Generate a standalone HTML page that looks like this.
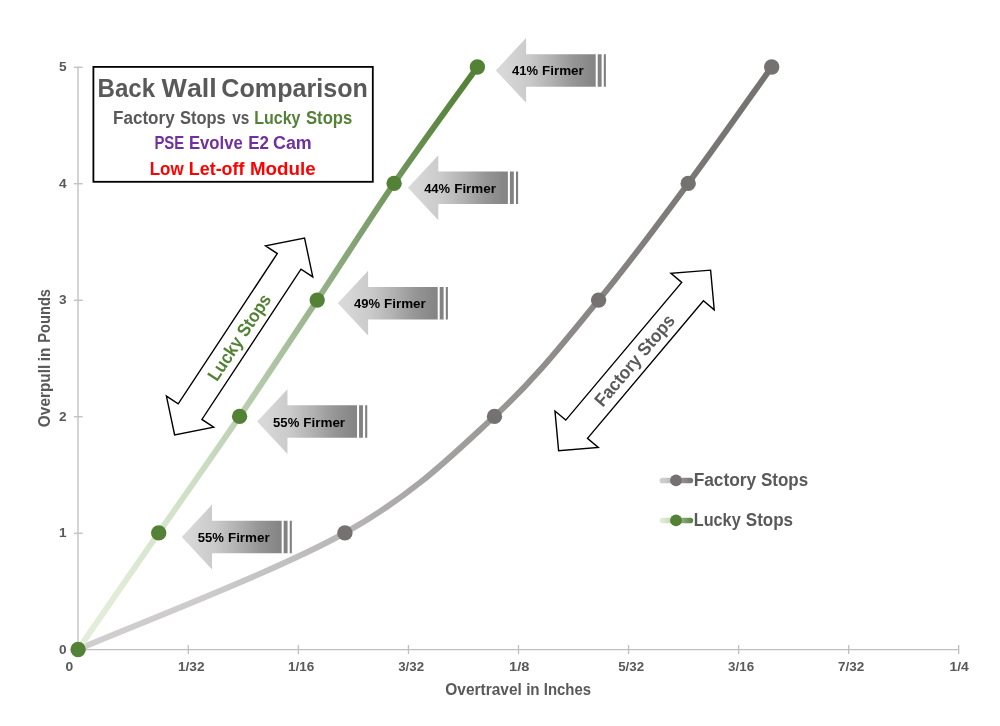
<!DOCTYPE html>
<html lang="en"><head><meta charset="utf-8"><title>Back Wall Comparison</title>
<style>html,body{margin:0;padding:0;background:#fff;}body{width:1000px;height:726px;overflow:hidden;}svg{display:block;}text{font-family:"Liberation Sans",sans-serif;font-weight:bold;font-kerning:none;}</style>
</head><body>
<svg width="1000" height="726" viewBox="0 0 1000 726">
<defs>
<linearGradient id="gGreen" gradientUnits="userSpaceOnUse" x1="78" y1="0" x2="477.4" y2="0"><stop offset="0" stop-color="#e3efdb"/><stop offset="0.1" stop-color="#e0ecd6"/><stop offset="0.3" stop-color="#cddec4"/><stop offset="0.5" stop-color="#acc3a2"/><stop offset="0.7" stop-color="#83a274"/><stop offset="0.9" stop-color="#5e8944"/><stop offset="1" stop-color="#538135"/></linearGradient>
<linearGradient id="gGray" gradientUnits="userSpaceOnUse" x1="78" y1="0" x2="771.7" y2="0"><stop offset="0" stop-color="#d0cece"/><stop offset="0.18" stop-color="#cdcbcb"/><stop offset="0.3" stop-color="#c1bfbf"/><stop offset="0.41" stop-color="#b4b2b2"/><stop offset="0.5" stop-color="#a7a4a4"/><stop offset="0.7" stop-color="#8e8a8a"/><stop offset="0.9" stop-color="#7b7676"/><stop offset="1" stop-color="#767171"/></linearGradient>
<linearGradient id="gArrow" gradientUnits="userSpaceOnUse" x1="0" y1="0" x2="110" y2="0"><stop offset="0" stop-color="#d9d9d9"/><stop offset="0.08" stop-color="#d7d7d7"/><stop offset="0.3" stop-color="#cacaca"/><stop offset="0.5" stop-color="#b2b2b2"/><stop offset="0.7" stop-color="#969696"/><stop offset="0.875" stop-color="#868686"/><stop offset="1" stop-color="#7f7f7f"/></linearGradient>
<linearGradient id="gLegGray" gradientUnits="userSpaceOnUse" x1="658" y1="0" x2="695" y2="0"><stop offset="0" stop-color="#d0cece"/><stop offset="0.18" stop-color="#cdcbcb"/><stop offset="0.3" stop-color="#c1bfbf"/><stop offset="0.41" stop-color="#b4b2b2"/><stop offset="0.5" stop-color="#a7a4a4"/><stop offset="0.7" stop-color="#8e8a8a"/><stop offset="0.9" stop-color="#7b7676"/><stop offset="1" stop-color="#767171"/></linearGradient>
<linearGradient id="gLegGreen" gradientUnits="userSpaceOnUse" x1="658" y1="0" x2="695" y2="0"><stop offset="0" stop-color="#e3efdb"/><stop offset="0.1" stop-color="#e0ecd6"/><stop offset="0.3" stop-color="#cddec4"/><stop offset="0.5" stop-color="#acc3a2"/><stop offset="0.7" stop-color="#83a274"/><stop offset="0.9" stop-color="#5e8944"/><stop offset="1" stop-color="#538135"/></linearGradient>
</defs>
<rect width="1000" height="726" fill="#fff"/>
<g stroke="#bfbfbf" stroke-width="1.33" fill="none">
<line x1="78.0" y1="66.8" x2="78.0" y2="650.2"/>
<line x1="77.4" y1="649.54" x2="958.9" y2="649.54"/>
<line x1="73.9" y1="533.25" x2="82.7" y2="533.25"/>
<line x1="73.9" y1="416.75" x2="82.7" y2="416.75"/>
<line x1="73.9" y1="300.25" x2="82.7" y2="300.25"/>
<line x1="73.9" y1="183.75" x2="82.7" y2="183.75"/>
<line x1="73.9" y1="67.25" x2="82.7" y2="67.25"/>
<line x1="73.9" y1="649.54" x2="78" y2="649.54"/>
<line x1="188.35" y1="645.1" x2="188.35" y2="654.0"/>
<line x1="298.40" y1="645.1" x2="298.40" y2="654.0"/>
<line x1="408.45" y1="645.1" x2="408.45" y2="654.0"/>
<line x1="518.50" y1="645.1" x2="518.50" y2="654.0"/>
<line x1="628.55" y1="645.1" x2="628.55" y2="654.0"/>
<line x1="738.60" y1="645.1" x2="738.60" y2="654.0"/>
<line x1="848.65" y1="645.1" x2="848.65" y2="654.0"/>
<line x1="958.70" y1="645.1" x2="958.70" y2="654.0"/>
<line x1="78" y1="649.5" x2="78" y2="654.0"/>
</g>
<g fill="#595959">
<text x="58.9" y="653.65" font-size="12" textLength="7.6" lengthAdjust="spacingAndGlyphs">0</text>
<text x="58.9" y="537.15" font-size="12" textLength="7.6" lengthAdjust="spacingAndGlyphs">1</text>
<text x="58.9" y="420.65" font-size="12" textLength="7.6" lengthAdjust="spacingAndGlyphs">2</text>
<text x="58.9" y="304.15" font-size="12" textLength="7.6" lengthAdjust="spacingAndGlyphs">3</text>
<text x="58.9" y="187.65" font-size="12" textLength="7.6" lengthAdjust="spacingAndGlyphs">4</text>
<text x="58.9" y="71.15" font-size="12" textLength="7.6" lengthAdjust="spacingAndGlyphs">5</text>
<text x="65.55" y="670.60" font-size="12.00" textLength="7.72" lengthAdjust="spacingAndGlyphs">0</text>
<text x="177.94" y="670.60" font-size="12.00" textLength="26.61" lengthAdjust="spacingAndGlyphs">1/32</text>
<text x="287.95" y="670.60" font-size="12.00" textLength="26.34" lengthAdjust="spacingAndGlyphs">1/16</text>
<text x="398.20" y="670.60" font-size="12.00" textLength="25.84" lengthAdjust="spacingAndGlyphs">3/32</text>
<text x="509.08" y="670.60" font-size="12.00" textLength="20.37" lengthAdjust="spacingAndGlyphs">1/8</text>
<text x="618.19" y="670.60" font-size="12.00" textLength="25.94" lengthAdjust="spacingAndGlyphs">5/32</text>
<text x="728.09" y="670.60" font-size="12.00" textLength="25.99" lengthAdjust="spacingAndGlyphs">3/16</text>
<text x="837.92" y="670.60" font-size="12.00" textLength="26.32" lengthAdjust="spacingAndGlyphs">7/32</text>
<text x="949.52" y="670.60" font-size="12.00" textLength="19.35" lengthAdjust="spacingAndGlyphs">1/4</text>
</g>
<g fill="#595959">
<text x="445.26" y="695.00" font-size="15.80" textLength="76.63" lengthAdjust="spacingAndGlyphs">Overtravel</text>
<text x="526.14" y="695.00" font-size="15.80" textLength="13.50" lengthAdjust="spacingAndGlyphs">in</text>
<text x="543.80" y="695.00" font-size="15.80" textLength="47.21" lengthAdjust="spacingAndGlyphs">Inches</text>
</g>
<g fill="#595959" transform="translate(49.8,426.5) rotate(-90)">
<text x="-0.63" y="0.00" font-size="16.20" textLength="62.42" lengthAdjust="spacingAndGlyphs">Overpull</text>
<text x="65.33" y="0.00" font-size="16.20" textLength="13.62" lengthAdjust="spacingAndGlyphs">in</text>
<text x="83.82" y="0.00" font-size="16.20" textLength="53.68" lengthAdjust="spacingAndGlyphs">Pounds</text>
</g>
<path d="M78.10,649.45 C122.57,630.03 275.50,571.74 344.90,532.90 C414.30,494.06 452.22,455.20 494.50,416.40 C536.78,377.60 566.32,338.93 598.60,300.10 C630.88,261.27 659.35,222.25 688.20,183.40 C717.05,144.55 757.78,86.40 771.70,67.00" fill="none" stroke="url(#gGray)" stroke-width="5.9" stroke-linecap="round" stroke-linejoin="round"/>
<path d="M78.10,649.45 C91.53,630.03 131.78,571.74 158.70,532.90 C185.62,494.06 213.18,455.20 239.60,416.40 C266.02,377.60 291.45,338.93 317.20,300.10 C342.95,261.27 367.40,222.25 394.10,183.40 C420.80,144.55 463.52,86.40 477.40,67.00" fill="none" stroke="url(#gGreen)" stroke-width="5.9" stroke-linecap="round" stroke-linejoin="round"/>
<circle cx="344.9" cy="532.9" r="7.7" fill="#767171"/>
<circle cx="494.5" cy="416.4" r="7.7" fill="#767171"/>
<circle cx="598.6" cy="300.1" r="7.7" fill="#767171"/>
<circle cx="688.2" cy="183.4" r="7.7" fill="#767171"/>
<circle cx="771.7" cy="67.0" r="7.7" fill="#767171"/>
<circle cx="78.1" cy="649.5" r="7.7" fill="#538135"/>
<circle cx="158.7" cy="532.9" r="7.7" fill="#538135"/>
<circle cx="239.6" cy="416.4" r="7.7" fill="#538135"/>
<circle cx="317.2" cy="300.1" r="7.7" fill="#538135"/>
<circle cx="394.1" cy="183.4" r="7.7" fill="#538135"/>
<circle cx="477.4" cy="67.0" r="7.7" fill="#538135"/>
<g transform="translate(181.75,537.00)"><path d="M0,0 L30.3,-32.4 L30.3,-16.25 L99.9,-16.25 L99.9,16.25 L30.3,16.25 L30.3,32.4 Z M101.9,-16.25 H105.8 V16.25 H101.9 Z M108,-16.25 H110.1 V16.25 H108 Z" fill="url(#gArrow)"/></g>
<text x="197.70" y="541.90" font-size="13.40" fill="#000" textLength="26.20" lengthAdjust="spacingAndGlyphs">55%</text>
<text x="227.95" y="541.90" font-size="13.40" fill="#000" textLength="41.75" lengthAdjust="spacingAndGlyphs">Firmer</text>
<g transform="translate(257.15,421.60)"><path d="M0,0 L30.3,-32.4 L30.3,-16.25 L99.9,-16.25 L99.9,16.25 L30.3,16.25 L30.3,32.4 Z M101.9,-16.25 H105.8 V16.25 H101.9 Z M108,-16.25 H110.1 V16.25 H108 Z" fill="url(#gArrow)"/></g>
<text x="273.10" y="426.50" font-size="13.40" fill="#000" textLength="26.20" lengthAdjust="spacingAndGlyphs">55%</text>
<text x="303.35" y="426.50" font-size="13.40" fill="#000" textLength="41.75" lengthAdjust="spacingAndGlyphs">Firmer</text>
<g transform="translate(337.80,303.20)"><path d="M0,0 L30.3,-32.4 L30.3,-16.25 L99.9,-16.25 L99.9,16.25 L30.3,16.25 L30.3,32.4 Z M101.9,-16.25 H105.8 V16.25 H101.9 Z M108,-16.25 H110.1 V16.25 H108 Z" fill="url(#gArrow)"/></g>
<text x="353.95" y="308.10" font-size="13.40" fill="#000" textLength="25.99" lengthAdjust="spacingAndGlyphs">49%</text>
<text x="384.00" y="308.10" font-size="13.40" fill="#000" textLength="41.75" lengthAdjust="spacingAndGlyphs">Firmer</text>
<g transform="translate(408.00,187.75)"><path d="M0,0 L30.3,-32.4 L30.3,-16.25 L99.9,-16.25 L99.9,16.25 L30.3,16.25 L30.3,32.4 Z M101.9,-16.25 H105.8 V16.25 H101.9 Z M108,-16.25 H110.1 V16.25 H108 Z" fill="url(#gArrow)"/></g>
<text x="424.15" y="192.65" font-size="13.40" fill="#000" textLength="25.99" lengthAdjust="spacingAndGlyphs">44%</text>
<text x="454.20" y="192.65" font-size="13.40" fill="#000" textLength="41.75" lengthAdjust="spacingAndGlyphs">Firmer</text>
<g transform="translate(495.80,70.40)"><path d="M0,0 L30.3,-32.4 L30.3,-16.25 L99.9,-16.25 L99.9,16.25 L30.3,16.25 L30.3,32.4 Z M101.9,-16.25 H105.8 V16.25 H101.9 Z M108,-16.25 H110.1 V16.25 H108 Z" fill="url(#gArrow)"/></g>
<text x="511.95" y="75.30" font-size="13.40" fill="#000" textLength="25.99" lengthAdjust="spacingAndGlyphs">41%</text>
<text x="542.00" y="75.30" font-size="13.40" fill="#000" textLength="41.75" lengthAdjust="spacingAndGlyphs">Firmer</text>
<g transform="translate(239.6,336.5) rotate(-56.6)"><path d="M-118.0,0 L-90.0,-28.3 L-90.0,-14.2 L90.0,-14.2 L90.0,-28.3 L118.0,0 L90.0,28.3 L90.0,14.2 L-90.0,14.2 L-90.0,28.3 Z" fill="#fff" stroke="#000" stroke-width="1.4" stroke-linejoin="miter"/></g>
<text transform="translate(239.6,336.5) rotate(-56.6)" x="-0.8" y="6.4" text-anchor="middle" font-size="18.2" fill="#538135" textLength="99.5" lengthAdjust="spacingAndGlyphs">Lucky Stops</text>
<g transform="translate(634.6,360.4) rotate(-49.9)"><path d="M-118.0,0 L-90.0,-28.3 L-90.0,-14.2 L90.0,-14.2 L90.0,-28.3 L118.0,0 L90.0,28.3 L90.0,14.2 L-90.0,14.2 L-90.0,28.3 Z" fill="#fff" stroke="#000" stroke-width="1.4" stroke-linejoin="miter"/></g>
<text transform="translate(634.6,360.4) rotate(-49.9)" x="0" y="6.2" text-anchor="middle" font-size="18.2" fill="#595959" textLength="113.5" lengthAdjust="spacingAndGlyphs">Factory Stops</text>
<rect x="93.4" y="66.9" width="279.4" height="114.9" fill="#fff" stroke="#000" stroke-width="1.8"/>
<g fill="#595959">
<text x="97.59" y="96.60" font-size="25.00" textLength="57.59" lengthAdjust="spacingAndGlyphs">Back</text>
<text x="161.57" y="96.60" font-size="25.00" textLength="55.23" lengthAdjust="spacingAndGlyphs">Wall</text>
<text x="221.37" y="96.60" font-size="25.00" textLength="146.49" lengthAdjust="spacingAndGlyphs">Comparison</text>
<text x="112.96" y="124.30" font-size="18.30" textLength="61.74" lengthAdjust="spacingAndGlyphs">Factory</text>
<text x="179.93" y="124.30" font-size="18.30" textLength="45.75" lengthAdjust="spacingAndGlyphs">Stops</text>
<text x="232.34" y="124.30" font-size="18.30" textLength="17.09" lengthAdjust="spacingAndGlyphs">vs</text>
</g>
<g fill="#538135">
<text x="254.23" y="124.30" font-size="18.30" textLength="46.26" lengthAdjust="spacingAndGlyphs">Lucky</text>
<text x="306.02" y="124.30" font-size="18.30" textLength="46.26" lengthAdjust="spacingAndGlyphs">Stops</text>
</g>
<g fill="#7030a0">
<text x="154.40" y="149.00" font-size="18.30" textLength="29.88" lengthAdjust="spacingAndGlyphs">PSE</text>
<text x="188.88" y="149.00" font-size="18.30" textLength="53.89" lengthAdjust="spacingAndGlyphs">Evolve</text>
<text x="248.27" y="149.00" font-size="18.30" textLength="20.71" lengthAdjust="spacingAndGlyphs">E2</text>
<text x="272.97" y="149.00" font-size="18.30" textLength="38.74" lengthAdjust="spacingAndGlyphs">Cam</text>
</g>
<g fill="#ff0000">
<text x="149.66" y="174.70" font-size="18.30" textLength="34.00" lengthAdjust="spacingAndGlyphs">Low</text>
<text x="188.80" y="174.70" font-size="18.30" textLength="55.66" lengthAdjust="spacingAndGlyphs">Let-off</text>
<text x="249.94" y="174.70" font-size="18.30" textLength="65.80" lengthAdjust="spacingAndGlyphs">Module</text>
</g>
<line x1="662.4" y1="480.45" x2="690.4" y2="480.45" stroke="url(#gLegGray)" stroke-width="5.6" stroke-linecap="round"/>
<circle cx="676" cy="480.4" r="5.9" fill="#767171"/>
<text x="693.64" y="486.20" font-size="18.00" fill="#595959" textLength="62.65" lengthAdjust="spacingAndGlyphs">Factory</text>
<text x="761.01" y="486.20" font-size="18.00" fill="#595959" textLength="47.19" lengthAdjust="spacingAndGlyphs">Stops</text>
<line x1="662.4" y1="520.45" x2="690.4" y2="520.45" stroke="url(#gLegGreen)" stroke-width="5.6" stroke-linecap="round"/>
<circle cx="676" cy="520.4" r="5.9" fill="#538135"/>
<text x="693.71" y="526.40" font-size="18.00" fill="#595959" textLength="46.97" lengthAdjust="spacingAndGlyphs">Lucky</text>
<text x="745.81" y="526.40" font-size="18.00" fill="#595959" textLength="47.29" lengthAdjust="spacingAndGlyphs">Stops</text>
</svg>
</body></html>
